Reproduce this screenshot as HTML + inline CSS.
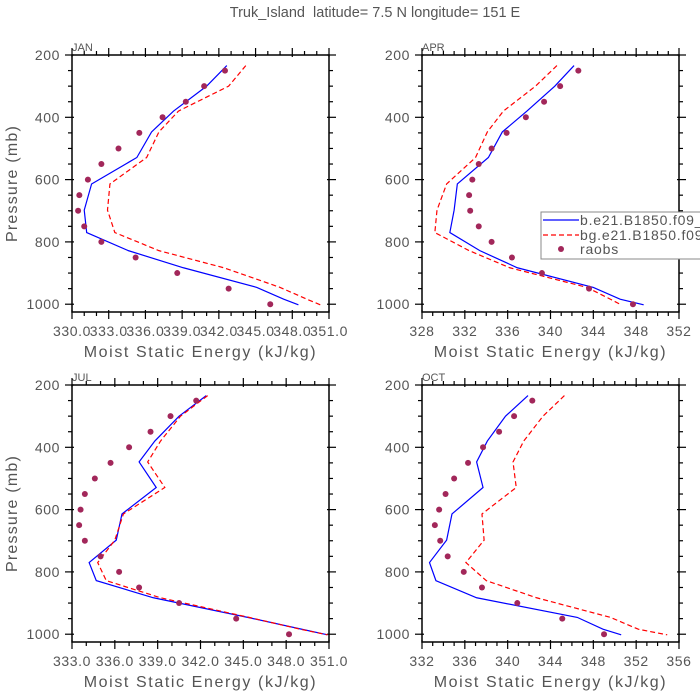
<!DOCTYPE html>
<html><head><meta charset="utf-8"><style>
html,body{margin:0;padding:0;background:#fff}
svg{display:block;font-family:"Liberation Sans",sans-serif}
text{white-space:pre}
</style></head><body>
<svg id="c" width="700" height="700" viewBox="0 0 700 700">
<text x="375" y="17" text-anchor="middle" font-size="14.5" fill="#555" xml:space="preserve">Truk_Island  latitude= 7.5 N longitude= 151 E</text>
</svg>
<script>
const levels=[234,300,380,447,529,614,698,770,828,883,946,984,1002];
const obsLevels=[250,300,350,400,450,500,550,600,650,700,750,800,850,900,950,1000];
const panelNames=["JAN","APR","JUL","OCT"];
const janBlue=[342.65,341.0,338.3,336.5,335.3,331.6,331.0,331.2,334.6,339.1,345.1,347.3,348.5];
const janRed=[344.2,342.8,338.7,337.1,336.1,333.1,332.9,333.5,337.1,342.4,347.0,349.2,350.3];
const janObs=[342.5,340.8,339.3,337.4,335.5,333.8,332.4,331.3,330.6,330.5,331.0,332.4,335.2,338.6,342.8,346.2];
const aprBlue=[342.2,340.4,337.8,335.5,334.2,331.3,331.0,330.6,333.4,336.9,344.0,346.5,348.7];
const aprRed=[340.6,338.6,335.6,334.1,333.0,330.3,329.4,329.2,332.4,336.2,343.4,345.6,346.6];
const aprObs=[342.6,340.9,339.4,337.7,335.9,334.5,333.3,332.7,332.4,332.5,333.3,334.5,336.4,339.2,343.6,347.7];
const julBlue=[342.4,340.5,338.8,337.7,338.9,336.5,336.1,334.2,334.7,338.7,345.3,349.1,350.9];
const julRed=[342.5,340.6,339.2,338.3,339.5,336.6,336.0,334.8,335.4,339.2,345.4,349.0,350.9];
const julObs=[341.7,339.9,338.5,337.0,335.7,334.6,333.9,333.6,333.5,333.9,335.0,336.3,337.7,340.5,344.5,348.2];
const octBlue=[341.9,339.8,338.1,337.1,337.7,334.8,334.3,332.7,333.3,337.1,346.5,348.9,350.6];
const octRed=[345.3,343.3,341.5,340.5,340.8,337.6,337.8,336.1,338.0,342.7,349.6,352.2,354.9];
const octObs=[342.3,340.6,339.2,337.7,336.3,335.0,334.2,333.6,333.2,333.7,334.4,335.9,337.6,340.9,345.1,349.0];
const janTicks=["330.0","333.0","336.0","339.0","342.0","345.0","348.0","351.0"];
const aprTicks=["328","332","336","340","344","348","352"];
const julTicks=["333.0","336.0","339.0","342.0","345.0","348.0","351.0"];
const octTicks=["332","336","340","344","348","352","356"];
const yTicks=[200,400,600,800,1000];

const NS="http://www.w3.org/2000/svg";
const svg=document.getElementById('c');
function mk(t,a,p){const e=document.createElementNS(NS,t);for(const k in a)e.setAttribute(k,a[k]);(p||svg).appendChild(e);return e;}

const panels=[
 {x0:72,x1:329,y0:55,y1:312,xmin:330,xmax:351,step:3,ticks:janTicks,blue:janBlue,red:janRed,obs:janObs,key:"jan"},
 {x0:422,x1:679,y0:55,y1:312,xmin:328,xmax:352,step:4,ticks:aprTicks,blue:aprBlue,red:aprRed,obs:aprObs,key:"apr"},
 {x0:72,x1:329,y0:385,y1:642,xmin:333,xmax:351,step:3,ticks:julTicks,blue:julBlue,red:julRed,obs:julObs,key:"jul"},
 {x0:422,x1:679,y0:385,y1:642,xmin:332,xmax:356,step:4,ticks:octTicks,blue:octBlue,red:octRed,obs:octObs,key:"oct"}
];
const pmin=200,pmax=1025;
panels.forEach((P,i)=>{
 const g=mk('g',{});
 
 
 const sx=v=>P.x0+(v-P.xmin)/(P.xmax-P.xmin)*(P.x1-P.x0);
 const sy=p=>P.y0+(p-pmin)/(pmax-pmin)*(P.y1-P.y0);
 const lbl=mk('text',{x:P.x0,y:P.y0-4,'font-size':11,fill:'#555'},g);lbl.textContent=panelNames[i];
 
 
 const fr=mk('rect',{x:P.x0,y:P.y0,width:P.x1-P.x0,height:P.y1-P.y0,fill:'none',stroke:'#000','stroke-width':1.5},g);
 
 
 for(let v=P.xmin;v<=P.xmax+1e-6;v+=1){
  const maj=Math.abs(((v-P.xmin)/P.step)-Math.round((v-P.xmin)/P.step))<1e-6;
  const L=maj?7:4,x=sx(v);
  mk('line',{x1:x,x2:x,y1:P.y1-(maj?2:0),y2:P.y1+L,stroke:'#000','stroke-width':1.2},g);
  mk('line',{x1:x,x2:x,y1:P.y0+(maj?2:0),y2:P.y0-L,stroke:'#000','stroke-width':1.2},g);
 }
 P.ticks.forEach((t,k)=>{const v=P.xmin+k*P.step;const tx=mk('text',{x:sx(v),y:P.y1+24,'text-anchor':'middle','font-size':14,'letter-spacing':0.6,fill:'#555'},g);tx.textContent=t;
  
  });
 const xt=mk('text',{x:(P.x0+P.x1)/2,y:P.y1+45,'text-anchor':'middle','font-size':16,'letter-spacing':1.6,fill:'#555'},g);xt.textContent="Moist Static Energy (kJ/kg)";
 
 
 for(let p=200;p<=1000;p+=50){
  const maj=p%200===0,L=maj?7:4,y=sy(p);
  mk('line',{x1:P.x0+(maj?2:0),x2:P.x0-L,y1:y,y2:y,stroke:'#000','stroke-width':1.2},g);
  mk('line',{x1:P.x1-(maj?2:0),x2:P.x1+L,y1:y,y2:y,stroke:'#000','stroke-width':1.2},g);
 }
 yTicks.forEach(p=>{const ty=mk('text',{x:P.x0-12,y:sy(p)+5,'text-anchor':'end','font-size':14,'letter-spacing':0.6,fill:'#555'},g);ty.textContent=p;
  
  });
 if(i%2===0){const yt=mk('text',{x:0,y:0,'text-anchor':'middle','font-size':16,'letter-spacing':1.2,fill:'#555',transform:`translate(17,${(P.y0+P.y1)/2}) rotate(-90)`},g);yt.textContent="Pressure (mb)";
  
  }
 const bl=mk('polyline',{points:P.blue.map((v,k)=>sx(v)+','+sy(levels[k])).join(' '),fill:'none',stroke:'#0000ff','stroke-width':1.2},g);
 
 
 const rd=mk('polyline',{points:P.red.map((v,k)=>sx(v)+','+sy(levels[k])).join(' '),fill:'none',stroke:'#ff0000','stroke-width':1.2,'stroke-dasharray':'5,3'},g);
 
 
 P.obs.forEach((v,k)=>{const c=mk('circle',{cx:sx(v),cy:sy(obsLevels[k]),r:3,fill:'#a2275a'},g);
  
  });
});
const lg=mk('g',{});


mk('rect',{x:541,y:212,width:170,height:47,fill:'#fff',stroke:'#888','stroke-width':1},lg);
mk('line',{x1:543,x2:579,y1:220,y2:220,stroke:'#0000ff','stroke-width':1.2},lg);
mk('line',{x1:543,x2:579,y1:235,y2:235,stroke:'#ff0000','stroke-width':1.2,'stroke-dasharray':'5,3'},lg);
mk('circle',{cx:561,cy:249,r:3,fill:'#a2275a'},lg);
[["b.e21.B1850.f09_",225],["bg.e21.B1850.f09",240],["raobs",254]].forEach(([t,y])=>{const e=mk('text',{x:580,y:y,'font-size':14,'letter-spacing':0.8,fill:'#555'},lg);e.textContent=t;
 
 });
</script>
</body></html>
